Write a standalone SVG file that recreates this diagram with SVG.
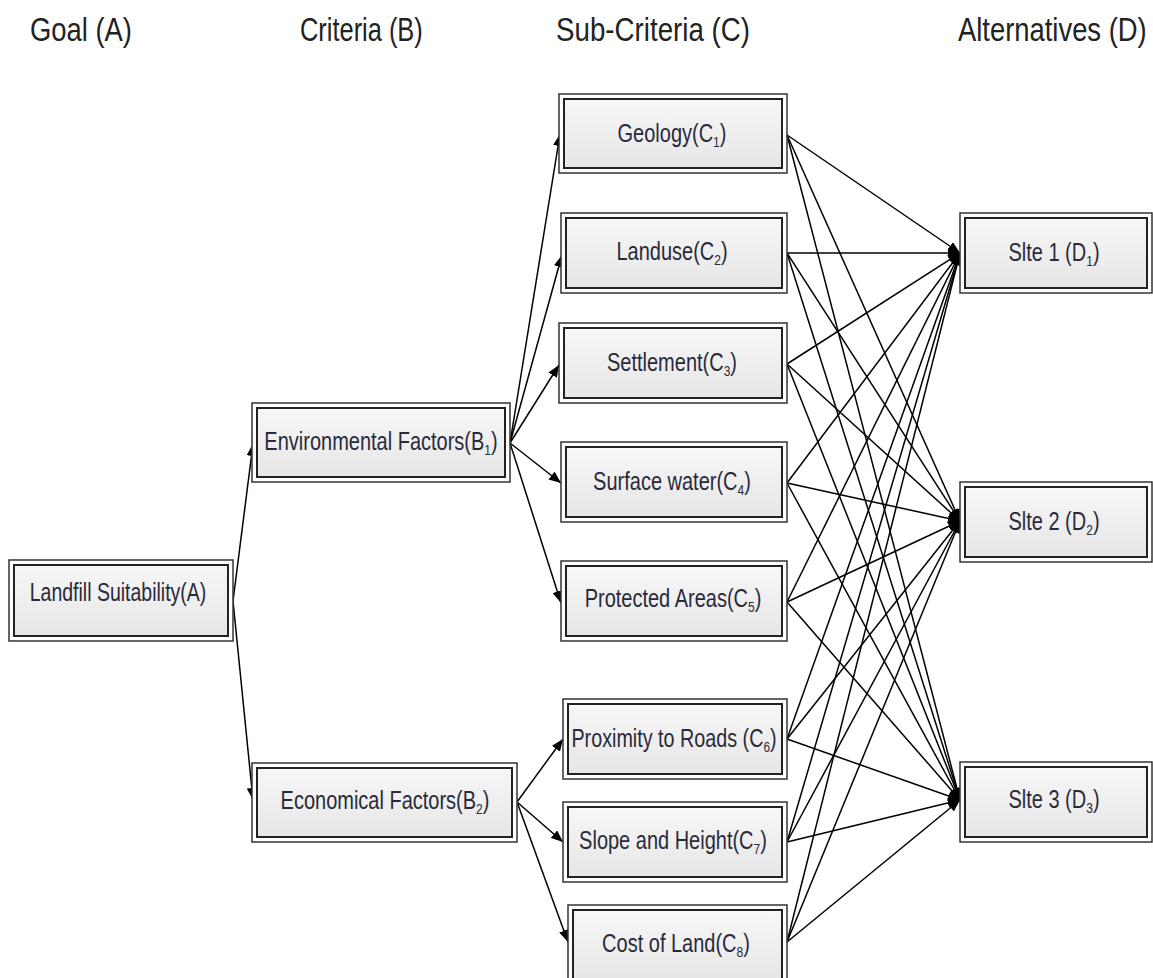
<svg xmlns="http://www.w3.org/2000/svg" width="1153" height="978" viewBox="0 0 1153 978">
<defs>
<linearGradient id="g" x1="0" y1="0" x2="0" y2="1">
<stop offset="0" stop-color="#f7f7f7"/>
<stop offset="1" stop-color="#e6e6e6"/>
</linearGradient>
<marker id="ah" markerUnits="userSpaceOnUse" markerWidth="14" markerHeight="10" refX="12" refY="5" orient="auto">
<path d="M0,0 L12,5 L0,10 z" fill="#000"/>
</marker>
</defs>
<style>
.o{fill:#fff;stroke:#333;stroke-width:1.5}
.i{fill:url(#g);stroke:#222;stroke-width:2}
.t{font-family:"Liberation Sans",Arial,sans-serif;font-size:25px;fill:#2a2a3a;text-anchor:middle}
.h{font-family:"Liberation Sans",Arial,sans-serif;font-size:33px;fill:#222}
.s{font-size:15px}
#connectors line{stroke:#000;stroke-width:1.5;marker-end:url(#ah)}
</style>
<rect width="1153" height="978" fill="#fff"/>
<g id="headers">
<text class="h" transform="translate(30,41) scale(0.83,1)">Goal (A)</text>
<text class="h" transform="translate(300,41) scale(0.77,1)">Criteria (B)</text>
<text class="h" transform="translate(556,41) scale(0.84,1)">Sub-Criteria (C)</text>
<text class="h" transform="translate(958,41) scale(0.83,1)">Alternatives (D)</text>
</g>
<g id="connectors">
<line x1="233" y1="601" x2="253" y2="444"/>
<line x1="233" y1="601" x2="253" y2="800"/>
<line x1="510" y1="443" x2="560" y2="134"/>
<line x1="510" y1="443" x2="562" y2="255"/>
<line x1="510" y1="443" x2="559" y2="365"/>
<line x1="510" y1="443" x2="561" y2="483"/>
<line x1="510" y1="443" x2="561" y2="603"/>
<line x1="517" y1="802" x2="563" y2="739"/>
<line x1="517" y1="802" x2="563" y2="842"/>
<line x1="517" y1="802" x2="568" y2="942"/>
<line x1="787" y1="135" x2="960" y2="253"/>
<line x1="787" y1="135" x2="960" y2="521"/>
<line x1="787" y1="135" x2="960" y2="800"/>
<line x1="787" y1="253" x2="960" y2="253"/>
<line x1="787" y1="253" x2="960" y2="521"/>
<line x1="787" y1="253" x2="960" y2="800"/>
<line x1="787" y1="364" x2="960" y2="253"/>
<line x1="787" y1="364" x2="960" y2="521"/>
<line x1="787" y1="364" x2="960" y2="800"/>
<line x1="787" y1="483" x2="960" y2="253"/>
<line x1="787" y1="483" x2="960" y2="521"/>
<line x1="787" y1="483" x2="960" y2="800"/>
<line x1="787" y1="602" x2="960" y2="253"/>
<line x1="787" y1="602" x2="960" y2="521"/>
<line x1="787" y1="602" x2="960" y2="800"/>
<line x1="787" y1="739" x2="960" y2="253"/>
<line x1="787" y1="739" x2="960" y2="521"/>
<line x1="787" y1="739" x2="960" y2="800"/>
<line x1="787" y1="842" x2="960" y2="253"/>
<line x1="787" y1="842" x2="960" y2="521"/>
<line x1="787" y1="842" x2="960" y2="800"/>
<line x1="787" y1="942" x2="960" y2="253"/>
<line x1="787" y1="942" x2="960" y2="521"/>
<line x1="787" y1="942" x2="960" y2="800"/>
</g>
<g id="A">
<rect class="o" x="9" y="560" width="224" height="81"/>
<rect class="i" x="14" y="565" width="214" height="71"/>
<text class="t" transform="translate(118,601) scale(0.78,1)">Landfill Suitability(A)</text>
</g>
<g id="B1">
<rect class="o" x="252" y="403" width="258" height="79"/>
<rect class="i" x="257" y="408" width="248" height="69"/>
<text class="t" transform="translate(381,450) scale(0.8,1)">Environmental Factors(B<tspan class="s" dy="5">1</tspan><tspan dy="-5">)</tspan></text>
</g>
<g id="B2">
<rect class="o" x="252" y="763" width="265" height="79"/>
<rect class="i" x="257" y="768" width="255" height="69"/>
<text class="t" transform="translate(385,809) scale(0.8,1)">Economical Factors(B<tspan class="s" dy="5">2</tspan><tspan dy="-5">)</tspan></text>
</g>
<g id="C1">
<rect class="o" x="559" y="94" width="228" height="79"/>
<rect class="i" x="564" y="99" width="218" height="69"/>
<text class="t" transform="translate(672,142) scale(0.8,1)">Geology(C<tspan class="s" dy="5">1</tspan><tspan dy="-5">)</tspan></text>
</g>
<g id="C2">
<rect class="o" x="561" y="213" width="226" height="80"/>
<rect class="i" x="566" y="218" width="216" height="70"/>
<text class="t" transform="translate(672,260) scale(0.8,1)">Landuse(C<tspan class="s" dy="5">2</tspan><tspan dy="-5">)</tspan></text>
</g>
<g id="C3">
<rect class="o" x="559" y="323" width="228" height="80"/>
<rect class="i" x="564" y="328" width="218" height="70"/>
<text class="t" transform="translate(672,371) scale(0.8,1)">Settlement(C<tspan class="s" dy="5">3</tspan><tspan dy="-5">)</tspan></text>
</g>
<g id="C4">
<rect class="o" x="561" y="442" width="226" height="80"/>
<rect class="i" x="566" y="447" width="216" height="70"/>
<text class="t" transform="translate(672,490) scale(0.8,1)">Surface water(C<tspan class="s" dy="5">4</tspan><tspan dy="-5">)</tspan></text>
</g>
<g id="C5">
<rect class="o" x="561" y="561" width="226" height="80"/>
<rect class="i" x="566" y="566" width="216" height="70"/>
<text class="t" transform="translate(673,607) scale(0.8,1)">Protected Areas(C<tspan class="s" dy="5">5</tspan><tspan dy="-5">)</tspan></text>
</g>
<g id="C6">
<rect class="o" x="563" y="699" width="224" height="80"/>
<rect class="i" x="568" y="704" width="214" height="70"/>
<text class="t" transform="translate(674,747) scale(0.79,1)">Proximity to Roads (C<tspan class="s" dy="5">6</tspan><tspan dy="-5">)</tspan></text>
</g>
<g id="C7">
<rect class="o" x="563" y="802" width="224" height="80"/>
<rect class="i" x="568" y="807" width="214" height="70"/>
<text class="t" transform="translate(673,849) scale(0.8,1)">Slope and Height(C<tspan class="s" dy="5">7</tspan><tspan dy="-5">)</tspan></text>
</g>
<g id="C8">
<rect class="o" x="568" y="905" width="219" height="80"/>
<rect class="i" x="573" y="910" width="209" height="70"/>
<text class="t" transform="translate(676,952) scale(0.8,1)">Cost of Land(C<tspan class="s" dy="5">8</tspan><tspan dy="-5">)</tspan></text>
</g>
<g id="D1">
<rect class="o" x="960" y="213" width="192" height="80"/>
<rect class="i" x="965" y="218" width="182" height="70"/>
<text class="t" transform="translate(1054,261) scale(0.8,1)">Slte 1 (D<tspan class="s" dy="5">1</tspan><tspan dy="-5">)</tspan></text>
</g>
<g id="D2">
<rect class="o" x="960" y="482" width="192" height="80"/>
<rect class="i" x="965" y="487" width="182" height="70"/>
<text class="t" transform="translate(1054,530) scale(0.8,1)">Slte 2 (D<tspan class="s" dy="5">2</tspan><tspan dy="-5">)</tspan></text>
</g>
<g id="D3">
<rect class="o" x="960" y="762" width="192" height="80"/>
<rect class="i" x="965" y="767" width="182" height="70"/>
<text class="t" transform="translate(1054,808) scale(0.8,1)">Slte 3 (D<tspan class="s" dy="5">3</tspan><tspan dy="-5">)</tspan></text>
</g>
</svg>
